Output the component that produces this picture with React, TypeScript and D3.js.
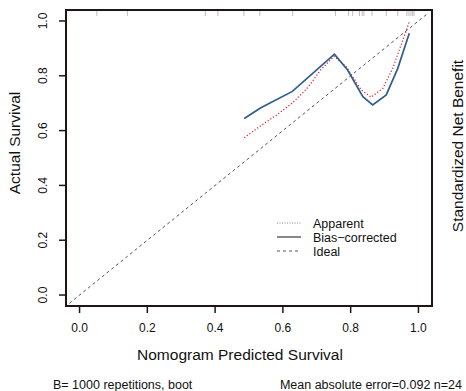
import React from "react";
import * as d3 from "d3";

const xTicks = [0, 0.2, 0.4, 0.6, 0.8, 1.0];
const yTicks = [0, 0.2, 0.4, 0.6, 0.8, 1.0];
const rugX = [0.051, 0.141, 0.371, 0.408, 0.485, 0.532, 0.629, 0.755, 0.794, 0.806, 0.826, 0.834, 0.839, 0.863, 0.905, 0.939, 0.966, 0.972, 0.978, 0.983, 0.987];
const apparentX = [0.486, 0.535, 0.584, 0.628, 0.673, 0.712, 0.751, 0.787, 0.831, 0.860, 0.895, 0.924, 0.949, 0.973];
const apparentY = [0.574, 0.618, 0.659, 0.701, 0.756, 0.822, 0.871, 0.833, 0.749, 0.722, 0.754, 0.827, 0.913, 0.997];
const biasX = [0.486, 0.535, 0.628, 0.752, 0.791, 0.836, 0.865, 0.905, 0.939, 0.973];
const biasY = [0.644, 0.683, 0.743, 0.879, 0.821, 0.724, 0.694, 0.730, 0.827, 0.955];
const idealX = [-0.03, 1.03];
const legendLabels = ["Apparent", "Bias\u2212corrected", "Ideal"];
const xTitle = "Nomogram Predicted Survival";
const yTitle = "Actual Survival";
const rightTitle = "Standardized Net Benefit";
const footLeft = "B= 1000 repetitions, boot";
const footRight = "Mean absolute error=0.092 n=24";

const FONT = "'Liberation Sans', Arial, Helvetica, sans-serif";

export default function App() {
  const x = d3.scaleLinear().domain([-0.04, 1.04]).range([66, 432]);
  const y = d3.scaleLinear().domain([-0.04, 1.04]).range([306, 10]);
  const line = d3.line<[number, number]>().x((d) => x(d[0])).y((d) => y(d[1]));
  const appPts = apparentX.map((v, i) => [v, apparentY[i]] as [number, number]);
  const biasPts = biasX.map((v, i) => [v, biasY[i]] as [number, number]);
  const idealPts = idealX.map((v) => [v, v] as [number, number]);
  const legendStyles = [
    { stroke: "#888", dash: "1 1.5", w: 1 },
    { stroke: "#111", dash: "", w: 1 },
    { stroke: "#555", dash: "3 3", w: 1 },
  ];
  const dark = "#1f1614";
  return (
    <svg width={466} height={391} style={{ position: "fixed", left: 0, top: 0, background: "#fff" }} fontFamily={FONT}>
      <rect x={0} y={0} width={466} height={391} fill="#fff" />
      {rugX.map((v, i) => (
        <line key={"r" + i} x1={x(v)} x2={x(v)} y1={11} y2={16} stroke="#bdbdbd" strokeWidth={1} />
      ))}
      <path d={line(idealPts) || ""} fill="none" stroke="#555" strokeWidth={1} strokeDasharray="3 3" />
      <path d={line(appPts) || ""} fill="none" stroke="#e3262b" strokeWidth={1.3} strokeDasharray="1.2 2" />
      <path d={line(biasPts) || ""} fill="none" stroke="#2f5d8e" strokeWidth={1.7} />
      <rect x={66} y={10} width={366} height={296} fill="none" stroke={dark} strokeWidth={2} />
      {xTicks.map((t) => (
        <g key={"x" + t}>
          <line x1={x(t)} x2={x(t)} y1={306} y2={313} stroke={dark} strokeWidth={1.5} />
          <text x={x(t)} y={332} fontSize={12} textAnchor="middle" fill="#111">{t.toFixed(1)}</text>
        </g>
      ))}
      {yTicks.map((t) => (
        <g key={"y" + t}>
          <line x1={59} x2={66} y1={y(t)} y2={y(t)} stroke={dark} strokeWidth={1.5} />
          <text x={47} y={y(t)} fontSize={12} textAnchor="middle" fill="#111" transform={`rotate(-90 47 ${y(t)})`}>{t.toFixed(1)}</text>
        </g>
      ))}
      <text x={240} y={360} fontSize={15.5} textAnchor="middle" fill="#111">{xTitle}</text>
      <text x={20} y={143} fontSize={15.5} textAnchor="middle" fill="#111" transform="rotate(-90 20 143)">{yTitle}</text>
      <text x={463} y={146} fontSize={15.5} textAnchor="middle" fill="#111" transform="rotate(-90 463 146)">{rightTitle}</text>
      {legendLabels.map((lab, i) => {
        const ly = 223 + i * 14;
        const s = legendStyles[i];
        return (
          <g key={"l" + i}>
            <line x1={277} x2={301} y1={ly} y2={ly} stroke={s.stroke} strokeWidth={s.w} strokeDasharray={s.dash} />
            <text x={313} y={ly + 4.5} fontSize={12.5} fill="#111">{lab}</text>
          </g>
        );
      })}
      <text x={53} y={389} fontSize={12.5} fill="#111">{footLeft}</text>
      <text x={462} y={389} fontSize={12.5} textAnchor="end" fill="#111">{footRight}</text>
    </svg>
  );
}
